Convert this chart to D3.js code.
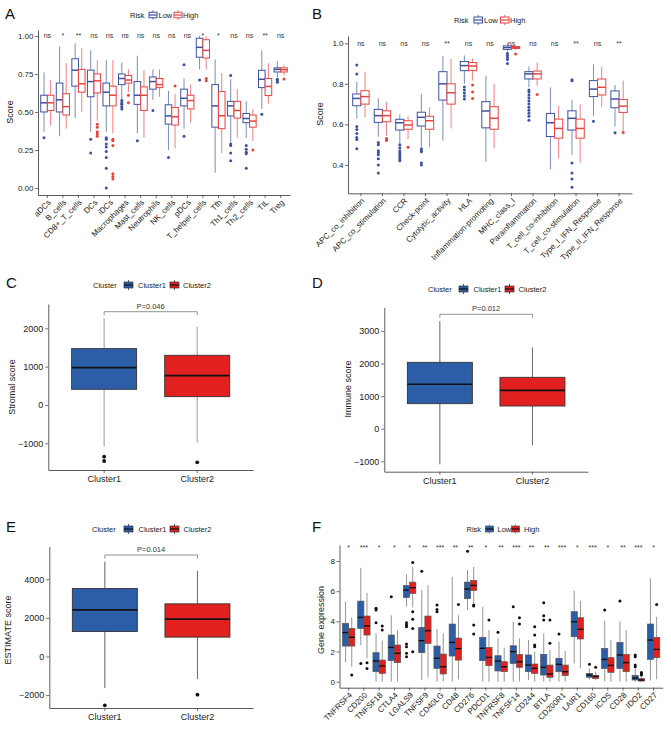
<!DOCTYPE html>
<html><head><meta charset="utf-8">
<script src="https://cdn.jsdelivr.net/npm/d3@7"></script>
<style>body{margin:0;background:#fff} svg{display:block}</style>
</head><body>
<script>
const FONT = "'Liberation Sans', Arial, Helvetica, sans-serif";

// ---------- Panel A data ----------
const aCats = ["aDCs","B_cells","CD8+_T_cells","DCs","iDCs","Macrophages","Mast_cells","Neutrophils","NK_cells","pDCs","T_helper_cells","Tfh","Th1_cells","Th2_cells","TIL","Treg"];
const aSig = ["ns","*","**","ns","ns","ns","ns","ns","ns","ns","*","*","ns","ns","**","ns"];
const aTicks = [0, 0.25, 0.5, 0.75, 1.0];
// [lower whisker, q1, median, q3, upper whisker]
const aLow = [[0.37,0.50,0.56,0.61,0.76],[0.34,0.50,0.58,0.69,0.93],[0.46,0.67,0.775,0.85,0.95],[0.37,0.60,0.70,0.775,0.906],[0.37,0.54,0.63,0.69,0.84],[0.58,0.68,0.72,0.75,0.825],[0.36,0.55,0.61,0.70,0.87],[0.58,0.65,0.70,0.73,0.78],[0.25,0.42,0.474,0.547,0.64],[0.39,0.54,0.59,0.65,0.72],[0.78,0.86,0.925,0.985,1.0],[0.10,0.40,0.54,0.68,0.845],[0.30,0.474,0.54,0.57,0.715],[0.33,0.43,0.457,0.49,0.57],[0.52,0.66,0.715,0.774,0.905],[0.727,0.763,0.78,0.79,0.834]];
const aHigh = [[0.41,0.51,0.56,0.61,0.71],[0.39,0.48,0.535,0.62,0.82],[0.50,0.63,0.685,0.78,0.92],[0.44,0.625,0.705,0.75,0.84],[0.36,0.54,0.61,0.67,0.84],[0.63,0.69,0.71,0.74,0.78],[0.33,0.51,0.61,0.665,0.775],[0.60,0.66,0.68,0.72,0.78],[0.26,0.414,0.468,0.53,0.62],[0.43,0.52,0.575,0.61,0.68],[0.78,0.855,0.905,0.975,1.0],[0.23,0.39,0.475,0.635,0.755],[0.33,0.46,0.51,0.57,0.65],[0.31,0.40,0.44,0.48,0.52],[0.554,0.608,0.668,0.72,0.82],[0.74,0.763,0.778,0.79,0.81]];
const aLowOut = [[0.33],[],[],[0.32,0.23],[0.33,0.32,0.29,0.27,0.24,0.20,0.13,0.0],[0.575,0.56,0.55,0.535,0.52],[0.31],[0.51],[0.20],[0.81,0.34],[0.71],[],[0.74,0.29,0.28,0.23,0.18],[0.28,0.255,0.235,0.225,0.13],[0.485],[0.715,0.705,0.695]];
const aHighOut = [[],[],[],[0.42,0.40,0.37,0.355,0.34],[0.32,0.31,0.28,0.094,0.076,0.06],[0.61,0.56],[],[],[0.67],[],[0.72,0.705],[],[],[0.25],[],[0.716]];

// ---------- Panel B data ----------
const bCats = ["APC_co_inhibition","APC_co_stimulation","CCR","Check-point","Cytolytic_activity","HLA","Inflammation-promoting","MHC_class_I","Parainflammation","T_cell_co-inhibition","T_cell_co-stimulation","Type_I_IFN_Response","Type_II_IFN_Response"];
const bSig = ["ns","ns","ns","ns","**","ns","ns","ns","ns","ns","**","ns","**"];
const bTicks = [0.4, 0.6, 0.8, 1.0];
const bLow = [[0.63,0.692,0.728,0.75,0.81],[0.54,0.61,0.643,0.674,0.728],[0.507,0.572,0.608,0.625,0.65],[0.49,0.592,0.635,0.66,0.75],[0.52,0.72,0.80,0.86,0.937],[0.80,0.865,0.89,0.91,0.94],[0.416,0.583,0.666,0.712,0.84],[0.959,0.97,0.979,0.987,1.0],[0.783,0.824,0.849,0.86,0.885],[0.379,0.54,0.608,0.654,0.783],[0.449,0.572,0.63,0.667,0.72],[0.64,0.737,0.774,0.816,0.896],[0.589,0.682,0.725,0.765,0.794]];
const bHigh = [[0.635,0.70,0.737,0.766,0.86],[0.543,0.613,0.643,0.667,0.71],[0.527,0.576,0.597,0.618,0.64],[0.487,0.576,0.618,0.64,0.684],[0.58,0.70,0.756,0.80,0.923],[0.816,0.865,0.888,0.905,0.926],[0.482,0.576,0.63,0.687,0.80],[0.967,0.974,0.979,0.984,0.99],[0.79,0.824,0.849,0.863,0.905],[0.433,0.532,0.58,0.626,0.69],[0.411,0.532,0.58,0.626,0.70],[0.687,0.745,0.783,0.824,0.885],[0.564,0.659,0.69,0.723,0.816]];
const bLowOut = [[0.893,0.849,0.59,0.575,0.555,0.535,0.525,0.48],[0.51,0.50,0.47,0.46,0.45,0.43,0.40,0.36],[0.50,0.485,0.47,0.46,0.45,0.44,0.43,0.42],[0.48,0.47,0.465,0.41,0.40],[],[0.785,0.77,0.755,0.74,0.725],[],[0.95,0.94,0.93,0.92,0.90],[0.77,0.76,0.745,0.73,0.715,0.70,0.685,0.67,0.655,0.64,0.62],[],[0.82,0.815,0.41,0.36,0.33,0.29],[0.615],[0.559]];
const bHighOut = [[],[0.53,0.525,0.52],[0.487],[],[],[0.794,0.76,0.728],[],[0.947],[0.748],[],[],[],[0.56]];

// ---------- Panels C, D, E data ----------
const clusters = ["Cluster1","Cluster2"];
const cStats = [[-1087,409,974,1470,2260],[-983,217,765,1296,2043]];
const cOut = [[-1348,-1461],[-1496]];
const cTicks = [-1000,0,1000,2000];
const dStats = [[-1096,768,1362,2037,3307],[-512,696,1177,1577,2498]];
const dOut = [[],[]];
const dTicks = [-1000,0,1000,2000,3000];
const eStats = [[-1638,1293,2414,3517,4914],[-1172,1000,1931,2724,4431]];
const eOut = [[-2534],[-1983]];
const eTicks = [-2000,0,2000,4000];
const pValues = ["P=0.046","P=0.012","P=0.014"];

// ---------- Panel F data ----------
const fCats = ["TNFRSF4","CD200","TNFSF18","CTLA4","LGALS9","TNFSF9","CD40LG","CD48","CD276","PDCD1","TNFRSF8","TNFSF14","CD244","BTLA","CD200R1","LAIR1","CD160","ICOS","CD28","IDO2","CD27"];
const fSig = ["*","***","*","*","*","**","***","**","**","*","**","***","**","**","***","*","***","*","**","***","*"];
const fTicks = [0,2,4,6,8];
const fLow = [[1.3,2.36,3.25,3.86,5.30],[2.43,3.53,4.26,5.34,7.55],[0,0.66,1.37,1.92,3.2],[0,1.39,2.27,3.09,4.4],[4.97,5.58,6.07,6.38,7.1],[0.11,1.92,2.72,3.60,6.07],[0,0.88,1.55,2.36,3.5],[0,1.70,2.60,3.82,6.95],[4.75,5.50,6.14,6.60,7.40],[0,1.39,2.21,2.94,4.97],[0,0.71,1.37,1.72,2.87],[0,1.21,1.99,2.38,3.97],[0.11,0.66,1.10,1.77,2.76],[0,0.44,0.95,1.81,3.2],[0,0.66,1.15,1.55,2.65],[1.21,2.98,3.97,4.64,6.03],[0.15,0.29,0.44,0.55,0.88],[0,0.88,1.48,2.21,4.04],[0,0.88,1.77,2.60,4.0],[0,0.11,0.24,0.42,0.88],[0.07,1.48,2.76,3.82,6.84]];
const fHigh = [[0.99,2.36,2.94,3.53,4.26],[1.55,3.09,3.69,4.35,5.89],[0,0.55,1.04,1.43,2.72],[0,1.26,1.88,2.43,3.42],[4.92,5.85,6.23,6.60,7.6],[0.29,2.54,3.38,4.35,6.40],[0,0.51,0.99,1.83,3.2],[0.15,1.43,2.19,2.89,4.4],[5.2,6.05,6.38,6.71,7.62],[0,1.06,1.61,2.27,3.42],[0,0.66,0.99,1.32,2.25],[0,0.95,1.32,1.81,2.87],[0,0.55,0.88,1.17,1.99],[0,0.29,0.51,1.10,2.10],[0,0.40,0.66,1.10,2.03],[0.88,2.83,3.47,4.24,5.36],[0.11,0.20,0.35,0.42,0.66],[0,0.62,1.08,1.59,2.76],[0,0.66,1.26,1.81,3.42],[0,0.04,0.11,0.20,0.33],[0.15,1.59,2.14,2.94,4.3]];
const fLowOut = [[],[1.21],[4.86,4.75,3.91],[5.63],[3.91,3.75,3.64,2.49,2.32,1.88,1.66],[7.32],[5.08,4.79,4.64],[],[8.65],[],[3.27],[4.97],[],[5.23,4.37,4.08],[3.16],[],[1.15],[4.75],[5.34],[1.77,1.66,1.10,0.99],[]];
const fHighOut = [[0.44],[1.26,0.88],[3.69,3.42],[],[7.90,4.64,4.13,3.53,1.99],[],[],[5.12],[5.08,5.01,3.75,3.16],[4.08],[],[4.24,3.82],[3.64,3.09,2.43,2.32],[4.08,2.54],[],[],[0.95],[],[],[0.60,0.51,0.44],[5.12]];

// ---------- colours ----------
const lineBlue = "#3B52A3", lineRed = "#E8433F";
const fillBlue = "#2C5EA8", fillRed = "#E2201F";

const svg = d3.select("body").append("svg").attr("width",671).attr("height",739)
  .style("font-family", FONT);
svg.append("rect").attr("width",671).attr("height",739).attr("fill","#fff");

function styleAxis(sel, fs){
  sel.select(".domain").attr("stroke","#333").attr("stroke-width",0.8);
  sel.selectAll(".tick line").attr("stroke","#333").attr("stroke-width",0.7);
  sel.selectAll(".tick text").attr("fill","#222").attr("font-size",fs).attr("font-family",FONT);
}

function drawBox(g, bx, bw, y, s, out, st){
  const [lo,q1,md,q3,hi] = s;
  g.append("line").attr("x1",bx).attr("x2",bx).attr("y1",y(hi)).attr("y2",y(q3))
    .attr("stroke",st.whisker).attr("stroke-width",st.ww).attr("stroke-opacity",st.wo);
  g.append("line").attr("x1",bx).attr("x2",bx).attr("y1",y(q1)).attr("y2",y(lo))
    .attr("stroke",st.whisker).attr("stroke-width",st.ww).attr("stroke-opacity",st.wo);
  g.append("rect").attr("x",bx-bw/2).attr("width",bw).attr("y",y(q3)).attr("height",y(q1)-y(q3))
    .attr("fill",st.fill).attr("stroke",st.stroke).attr("stroke-width",st.sw);
  g.append("line").attr("x1",bx-bw/2).attr("x2",bx+bw/2).attr("y1",y(md)).attr("y2",y(md))
    .attr("stroke",st.median).attr("stroke-width",st.mw);
  out.forEach(v=>{
    g.append("circle").attr("cx",bx).attr("cy",y(v)).attr("r",st.r).attr("fill",st.outFill);
  });
}

function keyGlyph(g, x, cy, w, h, st){
  g.append("line").attr("x1",x+w/2).attr("x2",x+w/2).attr("y1",cy-h/2-2).attr("y2",cy+h/2+2)
    .attr("stroke",st.whisker).attr("stroke-width",0.8);
  g.append("rect").attr("x",x).attr("y",cy-h/2).attr("width",w).attr("height",h)
    .attr("fill",st.fill).attr("stroke",st.stroke).attr("stroke-width",st.sw);
  g.append("line").attr("x1",x).attr("x2",x+w).attr("y1",cy).attr("y2",cy)
    .attr("stroke",st.median).attr("stroke-width",1.2);
}

function txt(x, y, s, fs, anchor, opts){
  const t = svg.append("text").attr("x",x).attr("y",y).attr("font-size",fs)
    .attr("text-anchor",anchor||"start").attr("dy","0.35em").attr("fill",(opts&&opts.fill)||"#222").text(s);
  return t;
}
function vtitle(x, y, s, fs){
  svg.append("text").attr("transform",`translate(${x},${y}) rotate(-90)`).attr("text-anchor","middle")
    .attr("dy","0.35em").attr("font-size",fs).attr("fill","#222").text(s);
}

function outlineStyle(col){
  return {fill:"#fff", stroke:col, sw:1, whisker:col, ww:0.9, wo:0.75, median:col, mw:1.5, outFill:col, r:1.5};
}
function filledStyle(col){
  return {fill:col, stroke:"#555", sw:0.7, whisker:"#8a8a8a", ww:0.9, wo:1, median:"#111", mw:1.4, outFill:"#111", r:1.5};
}

function groupedPanel(o){
  const g = svg.append("g");
  const x = d3.scaleBand().domain(o.cats).range(o.xr).paddingInner(0).paddingOuter(0.1);
  const y = d3.scaleLinear().domain(o.yd).range(o.yr);
  const ya = g.append("g").attr("transform",`translate(${o.xr[0]},0)`)
    .call(d3.axisLeft(y).tickValues(o.ticks).tickFormat(o.fmt).tickSize(3).tickSizeOuter(0).tickPadding(1.5));
  styleAxis(ya, o.tickFs);
  const xa = g.append("g").attr("transform",`translate(0,${o.yr[0]})`)
    .call(d3.axisBottom(x).tickSize(3).tickSizeOuter(0).tickFormat(""));
  styleAxis(xa, o.tickFs);
  o.cats.forEach((c,i)=>{
    const cx = x(c) + x.bandwidth()/2;
    g.append("text").attr("transform",`translate(${cx+2},${o.yr[0]+6}) rotate(-45)`)
      .attr("text-anchor","end").attr("dy","0.35em").attr("font-size",o.labFs).attr("fill","#222").text(c);
    g.append("text").attr("x",cx).attr("y",y(o.sigV)).attr("dy","0.35em").attr("text-anchor","middle")
      .attr("font-size",o.sigFs).attr("fill","#333").text(o.sig[i]);
    drawBox(g, cx - o.bw/2, o.bw, y, o.low[i], o.lowOut[i], o.style(o.colors[0]));
    drawBox(g, cx + o.bw/2, o.bw, y, o.high[i], o.highOut[i], o.style(o.colors[1]));
  });
}

function clusterPanel(o){
  const g = svg.append("g");
  const x = d3.scaleBand().domain(clusters).range(o.xr).paddingInner(0).paddingOuter(0.1);
  const y = d3.scaleLinear().domain(o.yd).range(o.yr);
  const ya = g.append("g").attr("transform",`translate(${o.xr[0]},0)`)
    .call(d3.axisLeft(y).tickValues(o.ticks).tickFormat(d3.format("d")).tickSize(3).tickSizeOuter(0).tickPadding(2));
  styleAxis(ya, 9);
  ya.selectAll(".tick text").text(d => d < 0 ? "\u2212" + Math.abs(d) : d);
  const xa = g.append("g").attr("transform",`translate(0,${o.yr[0]})`)
    .call(d3.axisBottom(x).tickSize(3).tickSizeOuter(0).tickPadding(3));
  styleAxis(xa, 9);
  const cols = [fillBlue, fillRed];
  clusters.forEach((c,i)=>{
    const cx = x(c) + x.bandwidth()/2;
    drawBox(g, cx, o.bw, y, o.stats[i], o.out[i],
      {fill:cols[i], stroke:"#333", sw:0.9, whisker:o.wcol, ww:1, wo:1, median:"#111", mw:1.6, outFill:"#111", r:1.9});
  });
  const x1 = x(clusters[0]) + x.bandwidth()/2, x2 = x(clusters[1]) + x.bandwidth()/2;
  g.append("path").attr("d",`M${x1},${o.brY+3.5}V${o.brY}H${x2}V${o.brY+3.5}`)
    .attr("fill","none").attr("stroke","#777").attr("stroke-width",0.8);
  g.append("text").attr("x",(x1+x2)/2).attr("y",o.brY-5.5).attr("text-anchor","middle").attr("dy","0.35em")
    .attr("font-size",7.5).attr("fill","#333").text(o.p);
}

function clusterLegend(ly, tx, k1, t1, k2, t2){
  const g = svg.append("g");
  txt(tx, ly, "Cluster", 7.5);
  keyGlyph(g, k1, ly, 9, 6, {fill:fillBlue, stroke:"#333", sw:0.7, whisker:"#333", median:"#111"});
  txt(t1, ly, "Cluster1", 7.5);
  keyGlyph(g, k2, ly, 9, 6, {fill:fillRed, stroke:"#333", sw:0.7, whisker:"#333", median:"#111"});
  txt(t2, ly, "Cluster2", 7.5);
}

// ================= Panel A =================
txt(5, 14, "A", 15, "start", {fill:"#111"});
groupedPanel({cats:aCats, low:aLow, high:aHigh, lowOut:aLowOut, highOut:aHighOut, sig:aSig,
  xr:[38,290], yr:[195,30], yd:[-0.046,1.039], ticks:aTicks, fmt:d3.format(".2f"),
  tickFs:8, labFs:8, sigFs:7, sigV:1.0, bw:6.6, colors:[lineBlue,lineRed], style:outlineStyle});
vtitle(10, 112, "Score", 9);
{
  const g = svg.append("g");
  txt(130, 15, "Risk", 7.5);
  keyGlyph(g, 149, 15, 8, 5.5, outlineStyle(lineBlue));
  txt(158.5, 15, "Low", 7.5);
  keyGlyph(g, 174, 15, 8, 5.5, outlineStyle(lineRed));
  txt(183, 15, "High", 7.5);
}

// ================= Panel B =================
txt(312, 14, "B", 15, "start", {fill:"#111"});
groupedPanel({cats:bCats, low:bLow, high:bHigh, lowOut:bLowOut, highOut:bHighOut, sig:bSig,
  xr:[348,632], yr:[193.3,36], yd:[0.26,1.036], ticks:bTicks, fmt:d3.format(".1f"),
  tickFs:8, labFs:8, sigFs:7, sigV:1.0, bw:8.2, colors:[lineBlue,lineRed], style:outlineStyle});
vtitle(320, 114, "Score", 9);
{
  const g = svg.append("g");
  txt(454, 20, "Risk", 7.5);
  keyGlyph(g, 474, 20, 8.5, 6, outlineStyle(lineBlue));
  txt(484, 20, "Low", 7.5);
  keyGlyph(g, 500.5, 20, 8.5, 6, outlineStyle(lineRed));
  txt(510, 20, "High", 7.5);
}

// ================= Panel C =================
txt(6, 283, "C", 15, "start", {fill:"#111"});
clusterPanel({stats:cStats, out:cOut, ticks:cTicks, xr:[48.3,253], yr:[470,304], yd:[-1696,2634],
  bw:65, brY:311.7, p:pValues[0], wcol:"#9a9a9a"});
vtitle(12, 387, "Stromal score", 9);
clusterLegend(285, 93, 124, 138, 170, 183);

// ================= Panel D =================
txt(312, 283, "D", 15, "start", {fill:"#111"});
clusterPanel({stats:dStats, out:dOut, ticks:dTicks, xr:[384.3,588], yr:[471.7,307.3], yd:[-1321,3727],
  bw:65, brY:314.3, p:pValues[1], wcol:"#666"});
vtitle(347.5, 389, "Immune score", 9);
clusterLegend(289, 428, 459, 473.5, 505, 518.5);

// ================= Panel E =================
txt(6, 527, "E", 15, "start", {fill:"#111"});
clusterPanel({stats:eStats, out:eOut, ticks:eTicks, xr:[49.3,253], yr:[708,546.7], yd:[-2672,5685],
  bw:65, brY:555, p:pValues[2], wcol:"#666"});
vtitle(8, 630, "ESTIMATE score", 9);
clusterLegend(529, 92, 124, 138.5, 170, 183.5);

// ================= Panel F =================
txt(312, 527, "F", 15, "start", {fill:"#111"});
groupedPanel({cats:fCats, low:fLow, high:fHigh, lowOut:fLowOut, highOut:fHighOut, sig:fSig,
  xr:[339.5,662.7], yr:[687.7,545], yd:[-0.4,9.06], ticks:fTicks, fmt:d3.format("d"),
  tickFs:8, labFs:8, sigFs:7, sigV:8.9, bw:6.2, colors:[fillBlue,fillRed], style:filledStyle});
vtitle(321, 620, "Gene expression", 9);
{
  const g = svg.append("g");
  txt(466.5, 529, "Risk", 7.5);
  keyGlyph(g, 485.5, 529, 8, 6, filledStyle(fillBlue));
  txt(497.5, 529, "Low", 7.5);
  keyGlyph(g, 511.5, 529, 8, 6, filledStyle(fillRed));
  txt(524, 529, "High", 7.5);
}
</script>
</body></html>
